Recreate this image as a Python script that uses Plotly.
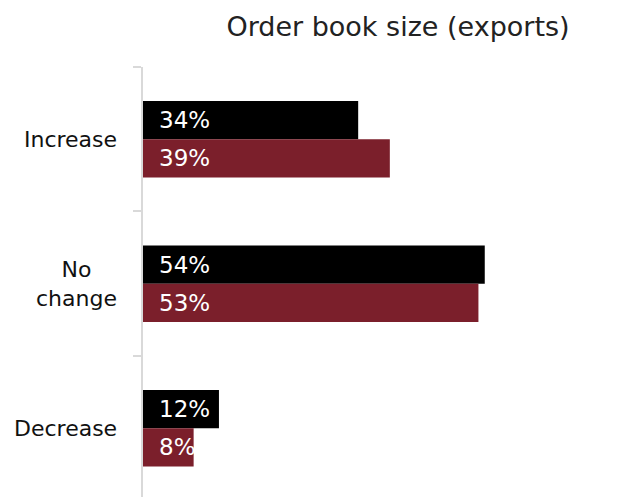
import plotly.graph_objects as go

categories = ["Increase", "No change", "Decrease"]
category_labels = ["Increase", "No<br>change", "Decrease"]
series_a = [34, 54, 12]
series_b = [39, 53, 8]
series_names = ["Series A", "Series B"]
series_colors = ["#000000", "#7b1f2b"]
title_text = "Order book size (exports)"

FONT = "DejaVu Sans"

fig = go.Figure()
for name, vals, color in zip(series_names, [series_a, series_b], series_colors):
    fig.add_trace(go.Bar(
        y=categories, x=vals, name=name, orientation="h",
        marker=dict(color=color, line=dict(width=0)),
        hoverinfo="skip",
    ))

annotations = []
# value labels inside each bar, near its start
offsets = [-0.132, 0.132]
for k, vals in enumerate([series_a, series_b]):
    for i, v in enumerate(vals):
        annotations.append(dict(
            x=0, y=i + offsets[k], xref="x", yref="y",
            text=f"{v}%", showarrow=False, xanchor="left", yanchor="middle",
            xshift=14, font=dict(family=FONT, size=23, color="#ffffff"),
        ))

# category labels, centred across lines
for i, lab in enumerate(category_labels):
    annotations.append(dict(
        x=0, y=i, xref="paper", yref="y", text=lab, showarrow=False,
        xanchor="right", yanchor="middle", align="center", xshift=-24,
        font=dict(family=FONT, size=22, color="#111111"),
    ))

fig.update_layout(
    width=625, height=497,
    margin=dict(l=143, r=1, t=67, b=0),
    paper_bgcolor="white", plot_bgcolor="white",
    barmode="group", bargap=0.47, bargroupgap=0,
    showlegend=False,
    annotations=annotations,
    title=dict(
        text=title_text, xref="paper", x=(398 - 143) / 481, xanchor="center",
        yref="container", y=1 - 27 / 497, yanchor="middle",
        font=dict(family=FONT, size=27, color="#222222"),
    ),
    xaxis=dict(range=[0, 76], visible=False, fixedrange=True),
    yaxis=dict(
        type="category", categoryorder="array", categoryarray=categories,
        range=[2.476, -0.5], showticklabels=False,
        showline=True, linecolor="#d9d9d9", linewidth=2,
        ticks="outside", tickson="boundaries", ticklen=8, tickwidth=2,
        tickcolor="#d9d9d9", showgrid=False, zeroline=False,
    ),
)

fig.write_html("out.html")
